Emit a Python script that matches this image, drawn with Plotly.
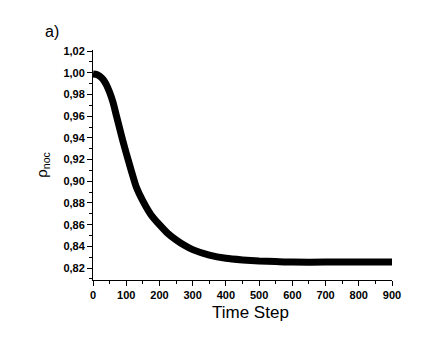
import plotly.graph_objects as go

# values
time_step = [0, 10, 20, 30, 40, 50, 60, 70, 80, 90, 100, 115, 130, 150, 175,
             200, 225, 250, 275, 300, 350, 400, 450, 500, 550, 600, 700, 800, 900]
p_noc = [0.999, 0.9985, 0.997, 0.994, 0.989, 0.982, 0.973, 0.961, 0.949, 0.937,
         0.926, 0.910, 0.895, 0.882, 0.869, 0.860, 0.852, 0.846, 0.841, 0.837,
         0.832, 0.829, 0.8275, 0.8265, 0.826, 0.8255, 0.8255, 0.8255, 0.8255]

font_family = "Liberation Sans, Arial"
tick_font = dict(family=font_family, size=11, color="black", weight="bold")

fig = go.Figure()
fig.add_trace(
    go.Scatter(
        x=time_step,
        y=p_noc,
        mode="lines",
        line=dict(color="black", width=7, shape="spline", smoothing=0.5),
        showlegend=False,
    )
)

# panel label
fig.add_annotation(
    text="a)",
    xref="paper",
    yref="paper",
    x=-0.137,
    y=1.035,
    xanchor="center",
    yanchor="bottom",
    showarrow=False,
    font=dict(family=font_family, size=16, color="black"),
)

# x title sits a bit right of the plot centre in the reference
fig.add_annotation(
    text="Time Step",
    xref="paper",
    yref="paper",
    x=0.527,
    y=-0.092,
    xanchor="center",
    yanchor="top",
    showarrow=False,
    font=dict(family=font_family, size=17, color="black"),
)

# page body has a small default margin, so the margins are shifted to match
fig.update_layout(
    width=425,
    height=340,
    margin=dict(l=85, r=41, t=42, b=68),
    paper_bgcolor="white",
    plot_bgcolor="white",
    separators=",.",
    xaxis=dict(
        range=[0, 900],
        dtick=100,
        ticks="outside",
        ticklen=5,
        tickcolor="black",
        showline=True,
        linecolor="black",
        linewidth=1,
        showgrid=False,
        zeroline=False,
        automargin=False,
        tickfont=tick_font,
        minor=dict(dtick=50, ticks="outside", ticklen=3, tickcolor="black"),
    ),
    yaxis=dict(
        range=[0.809, 1.021],
        dtick=0.02,
        tick0=0.82,
        tickformat=".2f",
        ticks="outside",
        ticklen=5,
        tickcolor="black",
        showline=True,
        linecolor="black",
        linewidth=1,
        showgrid=False,
        zeroline=False,
        automargin=False,
        tickfont=tick_font,
        minor=dict(dtick=0.01, ticks="outside", ticklen=3, tickcolor="black"),
        title=dict(text="ρ<sub>noc</sub>", font=dict(family=font_family, size=15, color="black"), standoff=12),
    ),
)

fig.write_html("out.html")
